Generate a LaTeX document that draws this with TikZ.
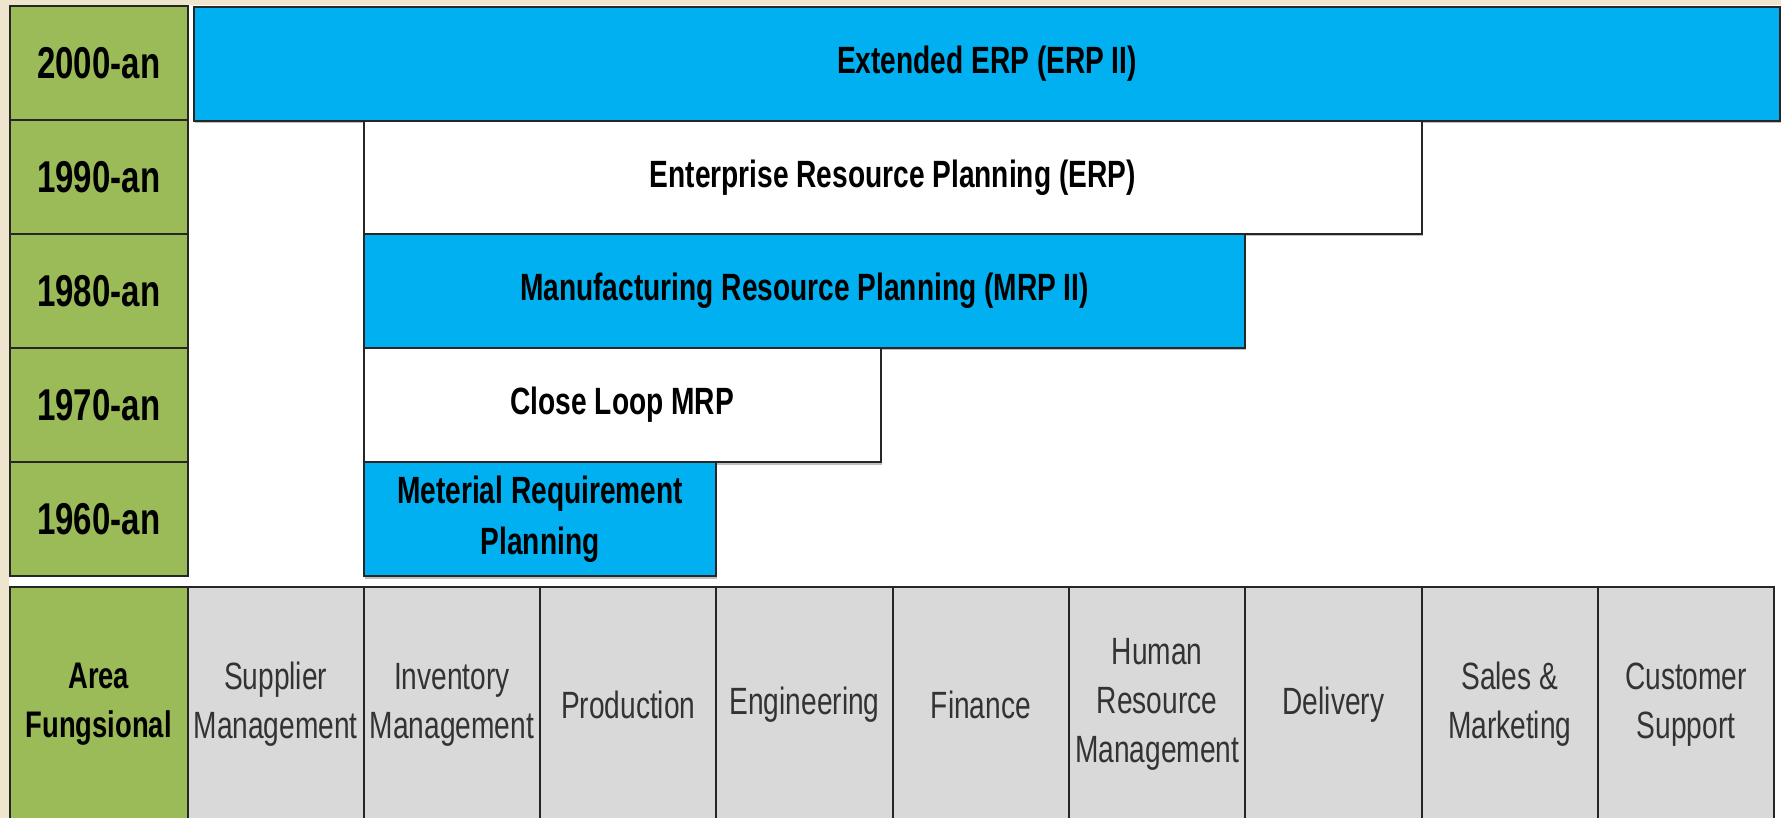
\documentclass[tikz,border=0pt]{standalone}
\usepackage{fontspec}
\setmainfont[FakeStretch=0.74]{Liberation Sans}
\usetikzlibrary{shadows}
\definecolor{erpblue}{HTML}{00B0F0}
\definecolor{erpgreen}{HTML}{9BBB59}
\definecolor{cellgray}{HTML}{D9D9D9}
\definecolor{edgecol}{HTML}{262626}
\definecolor{parch}{HTML}{EFE4CE}
\definecolor{graytext}{HTML}{333333}
\newcommand\mkbox[7]{\node[#6, minimum width={#4-#2}, minimum height={#5-#3}] (#1) at ({(#2+#4)/2},{(#3+#5)/2}) {#7};}
\begin{document}
\begin{tikzpicture}[x=1pt,y=-1pt,
  cellbox/.style={draw=edgecol, line width=2pt, inner sep=0pt, outer sep=0pt, align=center},
  yearbox/.style={cellbox, fill=erpgreen, font=\fontsize{44.6}{50}\selectfont\bfseries},
  barshadow/.style={drop shadow={shadow xshift=1pt, shadow yshift=-2.5pt, opacity=0.25, fill=black}},
  bluebar/.style={cellbox, fill=erpblue, barshadow, font=\fontsize{38}{51}\selectfont\bfseries},
  whitebar/.style={cellbox, fill=white, barshadow, font=\fontsize{38}{51}\selectfont\bfseries},
  areabox/.style={cellbox, fill=erpgreen, font=\fontsize{37}{49}\selectfont\bfseries},
  funcbox/.style={cellbox, fill=cellgray, text=graytext, font=\fontsize{38}{49}\selectfont}
]
\useasboundingbox (0,0) rectangle (1781,818);
\fill[parch] (0,0) rectangle (1781,818);
\fill[white] (9,5) rectangle (1781,818);

% year column
\mkbox{y2000}{10}{6}{187.5}{120}{yearbox}{2000-an}
\mkbox{y1990}{10}{120}{187.5}{234}{yearbox}{1990-an}
\mkbox{y1980}{10}{234}{187.5}{348}{yearbox}{1980-an}
\mkbox{y1970}{10}{348}{187.5}{462}{yearbox}{1970-an}
\mkbox{y1960}{10}{462}{187.5}{576}{yearbox}{1960-an}

% bars
\mkbox{erp2}{194}{7}{1780}{121}{bluebar}{Extended ERP (ERP II)}
\mkbox{erp}{363.8}{121}{1421.6}{234}{whitebar}{Enterprise Resource Planning (ERP)}
\mkbox{mrp2}{363.8}{234}{1245.3}{348}{bluebar}{Manufacturing Resource Planning (MRP II)}
\mkbox{clmrp}{363.8}{348}{880.5}{462}{whitebar}{Close Loop MRP}
\mkbox{mrp}{363.8}{462}{716.4}{576}{bluebar}{Meterial Requirement\\Planning}

% functional areas
\mkbox{area}{10}{587}{187.5}{822}{areabox}{Area\\Fungsional}
\mkbox{f1}{187.5}{587}{363.8}{822}{funcbox}{Supplier\\Management}
\mkbox{f2}{363.8}{587}{540.1}{822}{funcbox}{Inventory\\Management}
\mkbox{f3}{540.1}{587}{716.4}{822}{funcbox}{Production}
\mkbox{f4}{716.4}{587}{892.7}{822}{funcbox}{Engineering}
\mkbox{f5}{892.7}{587}{1069}{822}{funcbox}{Finance}
\mkbox{f6}{1069}{587}{1245.3}{822}{funcbox}{Human\\Resource\\Management}
\mkbox{f7}{1245.3}{587}{1421.6}{822}{funcbox}{Delivery}
\mkbox{f8}{1421.6}{587}{1597.9}{822}{funcbox}{Sales \&\\Marketing}
\mkbox{f9}{1597.9}{587}{1774.2}{822}{funcbox}{Customer\\Support}
\end{tikzpicture}
\end{document}
